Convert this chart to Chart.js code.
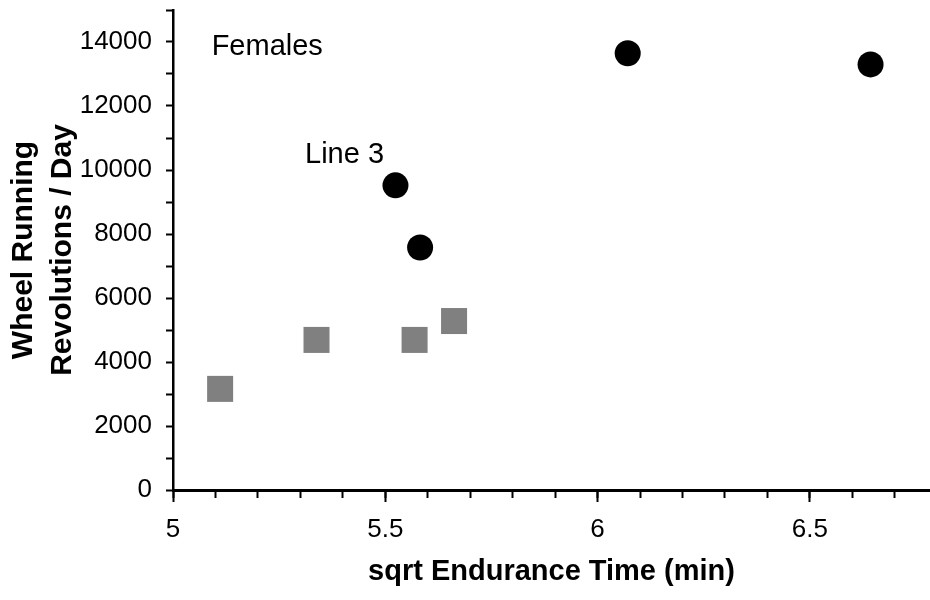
<!DOCTYPE html>
<html>
<head>
<meta charset="utf-8">
<script src="https://cdn.jsdelivr.net/npm/chart.js@4/dist/chart.umd.min.js"></script>
<style>
  body { margin: 0; background: #fff; }
  #wrap { width: 930px; height: 600px; }
</style>
</head>
<body>
<div id="wrap"><canvas id="wheelChart" width="930" height="600"></canvas></div>
<script>
// values
const line3X = [5.524, 5.582, 6.071, 6.643];
const line3Y = [9520, 7580, 13650, 13300];
const controlX = [5.111, 5.338, 5.569, 5.662];
const controlY = [3160, 4690, 4690, 5280];

const xMin = 5, xMax = 6.783;
const yMin = 0, yMax = 15000;

const annoText = ['Females', 'Line 3'];
const annoX = [5.091, 5.311];
const annoY = [13590, 10210];

const fontFamily = "'Liberation Sans', Arial, sans-serif";

const toPoints = (xs, ys) => xs.map((x, i) => ({ x: x, y: ys[i] }));

// writes the two text notes at data coordinates
const notesPlugin = {
    id: 'notes',
    afterDatasetsDraw(chart) {
        const ctx = chart.ctx;
        ctx.save();
        ctx.fillStyle = '#000';
        ctx.font = '29px ' + fontFamily;
        ctx.textAlign = 'left';
        ctx.textBaseline = 'alphabetic';
        annoText.forEach((t, i) => {
            ctx.fillText(t, chart.scales.x.getPixelForValue(annoX[i]), chart.scales.y.getPixelForValue(annoY[i]));
        });
        ctx.restore();
    }
};

const wheelConfig = {
    type: 'scatter',
    data: {
        datasets: [{
            label: 'Line 3',
            data: toPoints(line3X, line3Y),
            pointStyle: 'circle',
            pointRadius: 13,
            pointHoverRadius: 13,
            backgroundColor: '#000',
            borderWidth: 0
        }, {
            label: 'Control',
            data: toPoints(controlX, controlY),
            pointStyle: 'rect',
            pointRadius: 18.4,
            pointHoverRadius: 18.4,
            backgroundColor: '#808080',
            borderWidth: 0
        }]
    },
    options: {
        responsive: false,
        animation: false,
        events: [],
        layout: { autoPadding: false, padding: { top: 10, right: 0, bottom: 0, left: 0 } },
        plugins: {
            legend: { display: false },
            tooltip: { enabled: false }
        },
        scales: {
            x: {
                type: 'linear',
                position: 'bottom',
                min: xMin,
                max: xMax,
                afterFit: (s) => { s.height = 110; s.paddingLeft = 0; s.paddingRight = 0; },
                ticks: {
                    stepSize: 0.5,
                    includeBounds: false,
                    autoSkip: false,
                    maxRotation: 0,
                    padding: 12,
                    color: '#000',
                    font: { family: fontFamily, size: 26 },
                    callback: (v) => String(v)
                },
                grid: {
                    drawOnChartArea: false,
                    drawTicks: true,
                    tickLength: 12,
                    tickWidth: 2,
                    tickColor: '#000'
                },
                border: { display: true, color: '#000', width: 3 },
                title: {
                    display: true,
                    text: 'sqrt Endurance Time (min)',
                    color: '#000',
                    font: { family: fontFamily, size: 29, weight: 'bold', lineHeight: 1.2 },
                    padding: { top: 0, bottom: 11 }
                }
            },
            xMinor: {
                type: 'linear',
                axis: 'x',
                position: { y: 0 },
                min: xMin,
                max: xMax,
                afterFit: (s) => { s.paddingLeft = 0; s.paddingRight = 0; },
                ticks: { display: false, stepSize: 0.1, includeBounds: false, autoSkip: false },
                grid: {
                    drawOnChartArea: false,
                    drawTicks: true,
                    tickLength: 8,
                    tickWidth: 2,
                    tickColor: '#000'
                },
                border: { display: false }
            },
            y: {
                type: 'linear',
                position: 'left',
                min: yMin,
                max: yMax,
                afterFit: (s) => { s.width = 173; s.paddingTop = 0; s.paddingBottom = 0; },
                ticks: {
                    stepSize: 1000,
                    autoSkip: false,
                    padding: 14,
                    color: '#000',
                    font: { family: fontFamily, size: 26 },
                    callback: (v) => (v % 2000 === 0 ? String(v) : '')
                },
                grid: {
                    drawOnChartArea: false,
                    drawTicks: true,
                    tickLength: 7,
                    tickWidth: 2,
                    tickColor: '#000'
                },
                border: { display: true, color: '#000', width: 2.5 },
                title: {
                    display: true,
                    text: ['Wheel Running', 'Revolutions / Day'],
                    color: '#000',
                    font: { family: fontFamily, size: 30, weight: 'bold', lineHeight: 1.28 },
                    padding: { top: 5, bottom: 0 }
                }
            }
        }
    },
    plugins: [notesPlugin]
};

const wheelChart = new Chart(
    document.getElementById('wheelChart'),
    wheelConfig
);
</script>
</body>
</html>
